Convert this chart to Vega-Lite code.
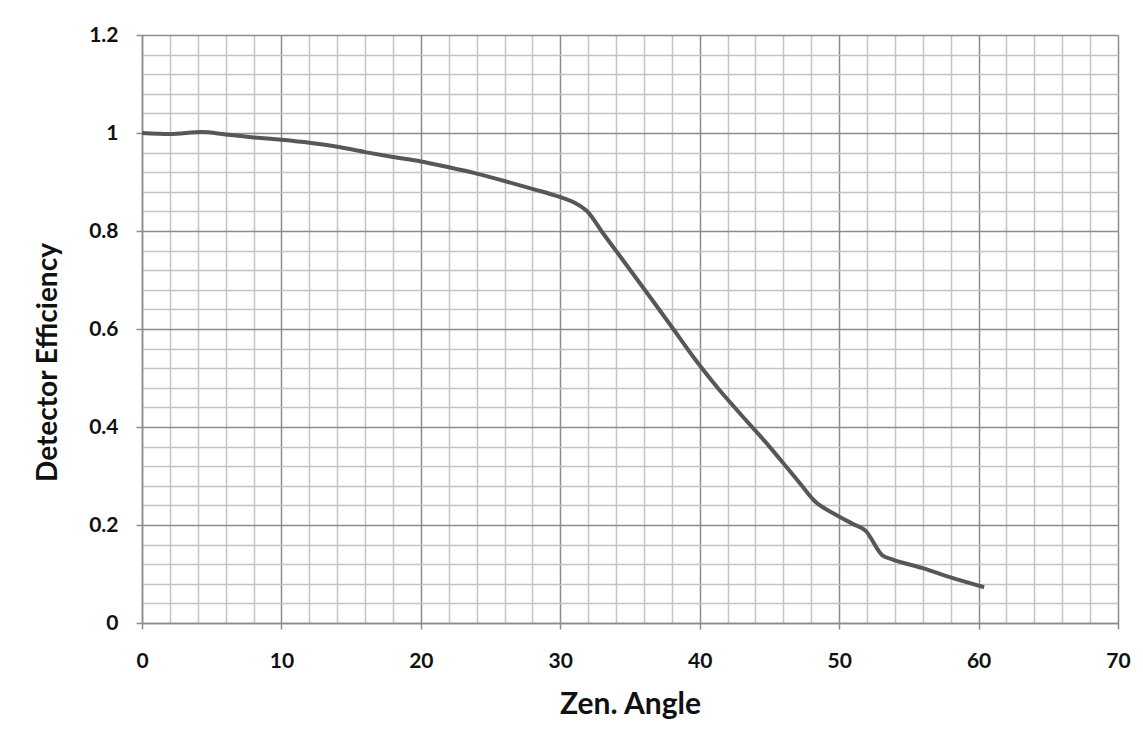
{
  "$schema": "https://vega.github.io/schema/vega-lite/v6.json",
  "autosize": "none",
  "width": 976,
  "height": 588,
  "padding": {"left": 142, "top": 35, "right": 25, "bottom": 123},
  "background": "white",
  "config": {
    "view": {"stroke": null},
    "font": "Lato"
  },
  "data": {
    "values": [
      {"angle": 0, "eff": 1.0},
      {"angle": 2, "eff": 0.998},
      {"angle": 4.3, "eff": 1.002},
      {"angle": 6, "eff": 0.997},
      {"angle": 8, "eff": 0.991},
      {"angle": 10, "eff": 0.986},
      {"angle": 12, "eff": 0.98},
      {"angle": 14, "eff": 0.972},
      {"angle": 16, "eff": 0.961},
      {"angle": 18, "eff": 0.951},
      {"angle": 20, "eff": 0.942},
      {"angle": 22, "eff": 0.93},
      {"angle": 24, "eff": 0.917},
      {"angle": 26, "eff": 0.902},
      {"angle": 28, "eff": 0.886},
      {"angle": 30, "eff": 0.869},
      {"angle": 31, "eff": 0.858},
      {"angle": 32, "eff": 0.838},
      {"angle": 33, "eff": 0.798},
      {"angle": 34.3, "eff": 0.748},
      {"angle": 36.7, "eff": 0.655},
      {"angle": 38, "eff": 0.604},
      {"angle": 39.8, "eff": 0.533},
      {"angle": 41.4, "eff": 0.476},
      {"angle": 43, "eff": 0.424},
      {"angle": 45, "eff": 0.36},
      {"angle": 46, "eff": 0.326},
      {"angle": 47.3, "eff": 0.281},
      {"angle": 48.2, "eff": 0.25},
      {"angle": 49.7, "eff": 0.222},
      {"angle": 51.0, "eff": 0.202},
      {"angle": 51.9, "eff": 0.188},
      {"angle": 53.1, "eff": 0.138},
      {"angle": 53.8, "eff": 0.13},
      {"angle": 56, "eff": 0.112},
      {"angle": 58, "eff": 0.093},
      {"angle": 60.4, "eff": 0.073}
    ]
  },
  "mark": {"type": "line", "color": "#575757", "strokeWidth": 4, "interpolate": "monotone"},
  "encoding": {
    "x": {
      "field": "angle",
      "type": "quantitative",
      "scale": {"domain": [0, 70], "nice": false, "zero": false},
      "axis": {
        "title": "Zen. Angle",
        "values": [0,2,4,6,8,10,12,14,16,18,20,22,24,26,28,30,32,34,36,38,40,42,44,46,48,50,52,54,56,58,60,62,64,66,68,70],
        "labelExpr": "datum.value % 10 === 0 ? datum.label : ''",
        "grid": true,
        "gridColor": {"condition": {"test": "datum.value % 10 === 0", "value": "#8c8c8c"}, "value": "#c4c4c4"},
        "gridWidth": 1.5,
        "domainColor": "#8c8c8c",
        "domainWidth": 1.5,
        "tickColor": "#8c8c8c",
        "tickOpacity": {"condition": {"test": "datum.value % 10 === 0", "value": 1}, "value": 0},
        "tickSize": 6,
        "tickWidth": 1.5,
        "labelFont": "Lato",
        "labelFontSize": 21,
        "labelFontWeight": "bold",
        "labelColor": "#111111",
        "labelPadding": 21,
        "labelFlush": false,
        "titleFont": "Lato",
        "titleFontSize": 30,
        "titleFontWeight": "bold",
        "titleColor": "#111111",
        "titlePadding": 18
      }
    },
    "y": {
      "field": "eff",
      "type": "quantitative",
      "scale": {"domain": [0, 1.2], "nice": false},
      "axis": {
        "title": "Detector Efficiency",
        "values": [0,0.04,0.08,0.12,0.16,0.2,0.24,0.28,0.32,0.36,0.4,0.44,0.48,0.52,0.56,0.6,0.64,0.68,0.72,0.76,0.8,0.84,0.88,0.92,0.96,1.0,1.04,1.08,1.12,1.16,1.2],
        "labelExpr": "round(datum.value * 100) % 20 === 0 ? format(datum.value, '.1~f') : ''",
        "grid": true,
        "gridColor": {"condition": {"test": "round(datum.value * 100) % 20 === 0", "value": "#8c8c8c"}, "value": "#c4c4c4"},
        "gridWidth": 1.5,
        "domainColor": "#8c8c8c",
        "domainWidth": 1.5,
        "tickColor": "#8c8c8c",
        "tickOpacity": {"condition": {"test": "round(datum.value * 100) % 20 === 0", "value": 1}, "value": 0},
        "tickSize": 6,
        "tickWidth": 1.5,
        "labelFont": "Lato",
        "labelFontSize": 21,
        "labelFontWeight": "bold",
        "labelColor": "#111111",
        "labelPadding": 18,
        "labelFlush": false,
        "titleFont": "Lato",
        "titleFontSize": 28,
        "titleFontWeight": "bold",
        "titleColor": "#111111",
        "titlePadding": 26,
        "titleY": 327
      }
    }
  }
}
